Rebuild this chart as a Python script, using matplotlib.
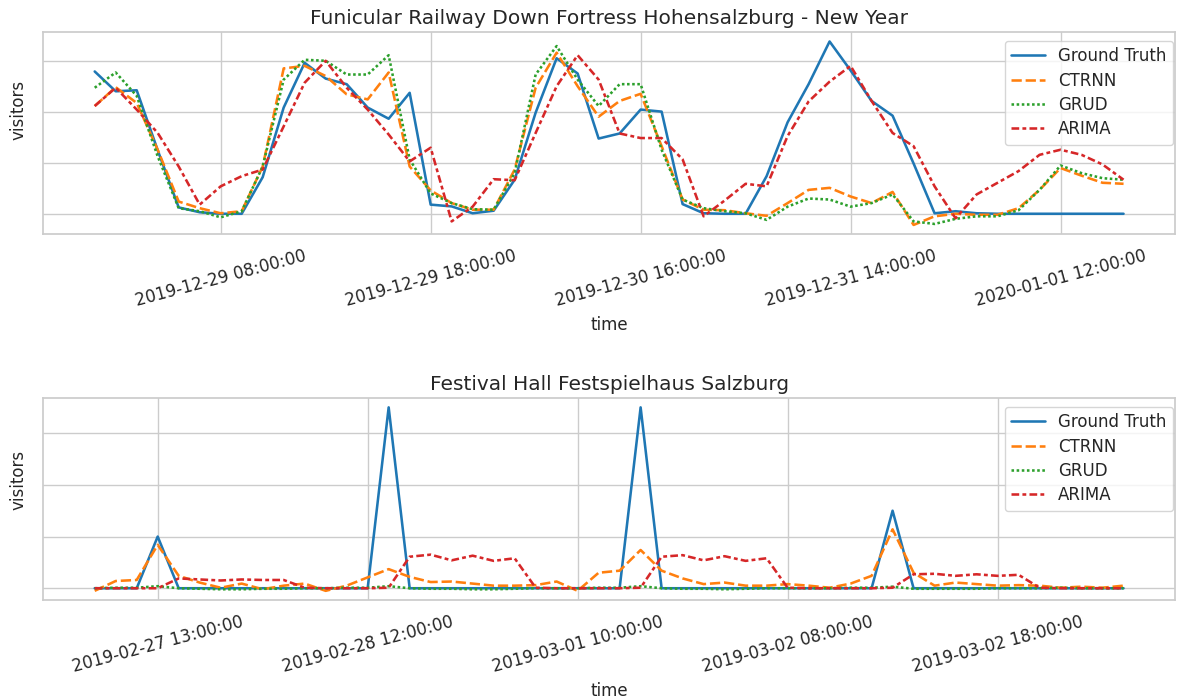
import matplotlib
matplotlib.use("Agg")
import matplotlib.pyplot as plt
import seaborn as sns

sns.set_theme(style="whitegrid")
plt.rcParams["font.family"] = ["DejaVu Sans"]

# --- data: top panel (Funicular Railway) ---
gt_top = [2.80, 2.41, 2.43, 1.25, 0.125, 0.03, 0.0, 0.0, 0.72, 2.09,
          2.97, 2.66, 2.55, 2.09, 1.87, 2.38, 0.18, 0.145, 0.01, 0.06,
          0.67, 1.99, 3.06, 2.76, 1.48, 1.58, 2.05, 2.01, 0.19, 0.01,
          0.0, 0.0, 0.74, 1.80, 2.55, 3.39, 2.82, 2.22, 1.93, 0.99,
          0.01, 0.05, 0.01, 0.0, 0.0, 0.0, 0.0, 0.0, 0.0, 0.0]
ctrnn_top = [2.12, 2.49, 2.18, 1.26, 0.24, 0.11, 0.01, 0.05, 0.93, 2.86,
             2.91, 2.71, 2.35, 2.25, 2.78, 0.93, 0.46, 0.21, 0.08, 0.08,
             0.87, 2.48, 3.17, 2.51, 1.91, 2.22, 2.36, 1.33, 0.28, 0.08,
             0.07, 0.01, -0.04, 0.21, 0.47, 0.51, 0.34, 0.21, 0.43, -0.22,
             -0.05, 0.0, -0.02, -0.02, 0.11, 0.47, 0.90, 0.75, 0.61, 0.59]
grud_top = [2.48, 2.78, 2.32, 1.13, 0.11, 0.05, -0.07, 0.05, 0.93, 2.64,
            3.03, 3.01, 2.74, 2.74, 3.12, 1.07, 0.40, 0.21, 0.09, 0.08,
            0.80, 2.74, 3.30, 2.64, 2.12, 2.55, 2.55, 1.26, 0.28, 0.11,
            0.05, 0.01, -0.12, 0.14, 0.30, 0.28, 0.14, 0.21, 0.38, -0.15,
            -0.20, -0.10, -0.05, -0.05, 0.07, 0.47, 0.95, 0.80, 0.70, 0.67]
arima_top = [2.12, 2.48, 2.05, 1.59, 0.93, 0.18, 0.54, 0.74, 0.87, 1.72,
             2.58, 3.01, 2.48, 2.05, 1.56, 1.03, 1.30, -0.15, 0.14, 0.68,
             0.66, 1.59, 2.51, 3.12, 2.64, 1.58, 1.49, 1.49, 1.07, -0.05,
             0.26, 0.59, 0.54, 1.53, 2.21, 2.60, 2.91, 2.22, 1.59, 1.33,
             0.54, -0.09, 0.38, 0.61, 0.84, 1.16, 1.26, 1.16, 0.97, 0.67]
ticks_top = [6, 16, 26, 36, 46]
labels_top = ["2019-12-29 08:00:00", "2019-12-29 18:00:00", "2019-12-30 16:00:00",
              "2019-12-31 14:00:00", "2020-01-01 12:00:00"]

# --- data: bottom panel (Festival Hall) ---
gt_bot = [0, 0, 0, 1.0, 0, 0, 0, 0, 0, 0,
          0, 0, 0, 0, 3.5, 0, 0, 0, 0, 0,
          0, 0, 0, 0, 0, 0, 3.5, 0, 0, 0,
          0, 0, 0, 0, 0, 0, 0, 0, 1.5, 0,
          0, 0, 0, 0, 0, 0, 0, 0, 0, 0]
ctrnn_bot = [-0.05, 0.14, 0.16, 0.84, 0.24, 0.11, 0.01, 0.09, -0.02, 0.05,
             0.09, -0.05, 0.05, 0.21, 0.37, 0.22, 0.12, 0.13, 0.09, 0.05,
             0.05, 0.06, 0.13, -0.05, 0.30, 0.34, 0.74, 0.34, 0.19, 0.08,
             0.11, 0.05, 0.05, 0.08, 0.05, 0.01, 0.09, 0.24, 1.14, 0.30,
             0.05, 0.11, 0.08, 0.05, 0.06, 0.05, 0.01, 0.03, 0.01, 0.05]
grud_bot = [0.0, 0.01, 0.01, 0.04, 0.0, -0.01, -0.02, -0.02, -0.01, -0.01,
            0.0, 0.0, 0.01, 0.01, 0.04, 0.0, -0.01, -0.01, -0.02, -0.02,
            -0.01, 0.0, 0.0, 0.0, 0.01, 0.01, 0.04, 0.0, -0.01, -0.01,
            -0.02, -0.01, 0.0, 0.0, 0.0, 0.0, 0.01, 0.01, 0.03, -0.01,
            -0.01, -0.01, -0.01, 0.0, 0.0, 0.0, 0.01, 0.0, 0.0, 0.0]
arima_bot = [0, 0, 0, 0, 0.19, 0.17, 0.15, 0.17, 0.16, 0.16,
             0.01, 0, 0, 0, 0.01, 0.61, 0.65, 0.54, 0.63, 0.53,
             0.58, 0.01, 0, 0, 0, 0, 0.01, 0.61, 0.64, 0.54,
             0.62, 0.53, 0.58, 0.01, 0, 0, 0, 0, 0.01, 0.27,
             0.28, 0.24, 0.27, 0.24, 0.26, 0.01, 0, 0, 0, 0]
ticks_bot = [3, 13, 23, 33, 43]
labels_bot = ["2019-02-27 13:00:00", "2019-02-28 12:00:00", "2019-03-01 10:00:00",
              "2019-03-02 08:00:00", "2019-03-02 18:00:00"]

panels = [
    ("Funicular Railway Down Fortress Hohensalzburg - New Year",
     [gt_top, ctrnn_top, grud_top, arima_top], ticks_top, labels_top, 0.614),
    ("Festival Hall Festspielhaus Salzburg",
     [gt_bot, ctrnn_bot, grud_bot, arima_bot], ticks_bot, labels_bot, 0.594),
]
names = ["Ground Truth", "CTRNN", "GRUD", "ARIMA"]
# seaborn lineplot style dashes
dash_list = [(), (4, 1.5), (1, 1), (3, 1.25, 1.5, 1.25)]
colors = ["tab:blue", "tab:orange", "tab:green", "tab:red"]

fig, axes = plt.subplots(2, 1, figsize=(11.79, 6.98), dpi=100)
fig.subplots_adjust(left=0.0367, right=0.9966, top=0.9537, bottom=0.1404, hspace=0.813)

for ax, (title, series, ticks, labels, ylab_pos) in zip(axes, panels):
    x = list(range(len(series[0])))
    for ys, name, d, c in zip(series, names, dash_list, colors):
        line, = ax.plot(x, ys, color=c, linewidth=1.85, label=name)
        if d:
            line.set_dashes(d)
    ax.set_title(title, fontsize=14.5)
    ax.set_xticks(ticks)
    ax.set_xticklabels(labels, rotation=15, fontsize=12)
    ax.set_yticks([0, 1, 2, 3])
    ax.set_yticklabels([])
    ax.set_xlabel("time", fontsize=12)
    ax.set_ylabel("visitors", fontsize=12)
    ax.yaxis.set_label_coords(-0.0135, ylab_pos)
    ax.legend(loc="upper right", fontsize=12, labelspacing=0.38,
              bbox_to_anchor=(1.0055, 1.0))

plt.savefig("out.png", dpi=100)
